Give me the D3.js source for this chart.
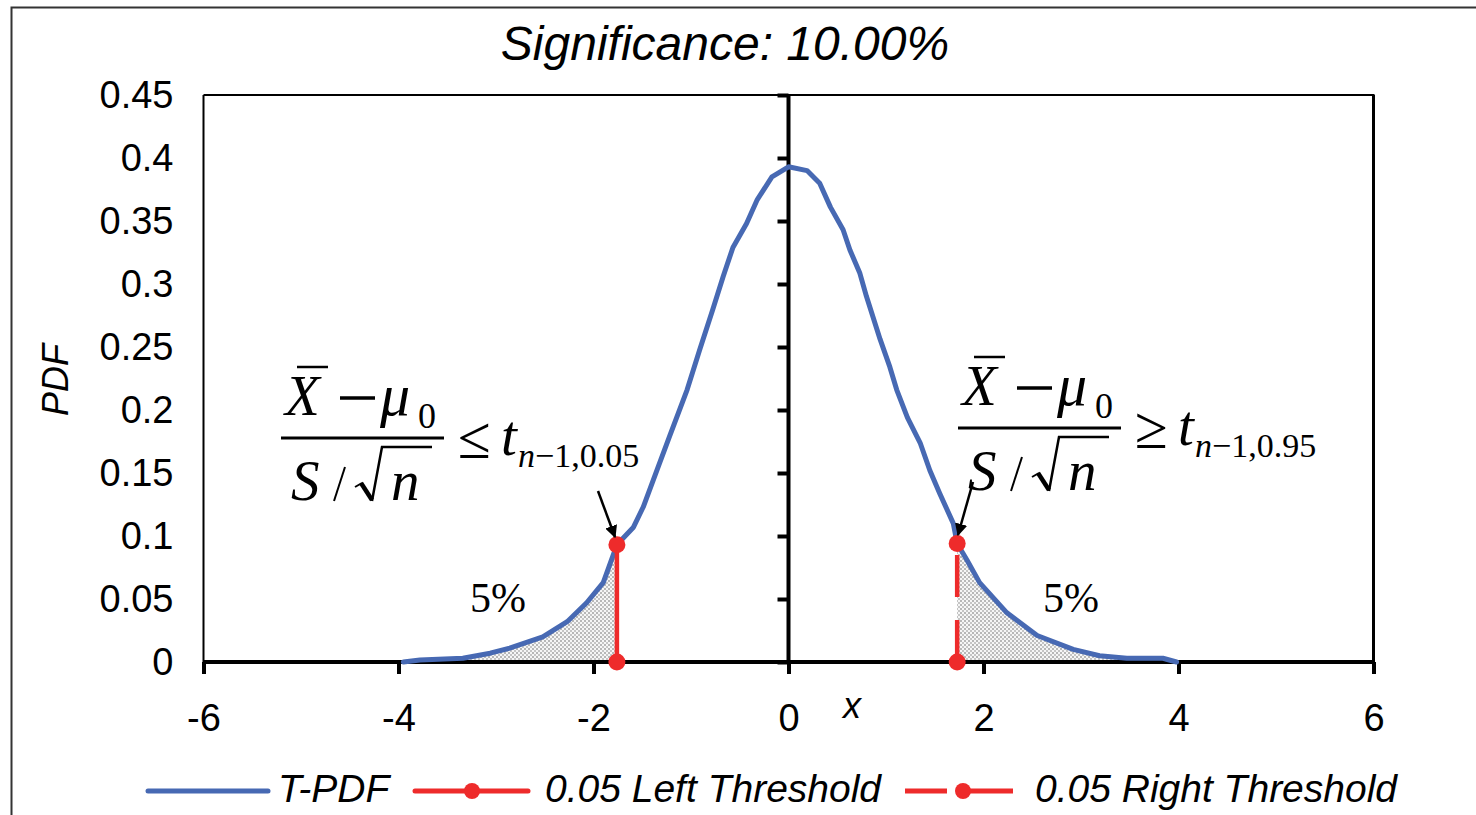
<!DOCTYPE html>
<html><head><meta charset="utf-8">
<script src="https://cdn.jsdelivr.net/npm/d3@7"></script>
<style>body{margin:0;background:#fff}svg{display:block}</style>
</head><body>
<svg id="c" width="1476" height="815"></svg>
<script>
// ---- data ----
const title = "Significance: 10.00%";
const xTicks = [-6, -4, -2, 0, 2, 4, 6];
const yTicks = [0, 0.05, 0.1, 0.15, 0.2, 0.25, 0.3, 0.35, 0.4, 0.45];
const pdfX = [-3.95, -3.78, -3.34, -3.06, -2.86, -2.52, -2.27, -2.07, -1.90, -1.76, -1.59, -1.49, -1.35, -1.22, -1.04, -0.91, -0.78, -0.67, -0.57, -0.43, -0.32, -0.17, 0,
  0.19, 0.32, 0.43, 0.56, 0.63, 0.73, 0.80, 0.94, 1.04, 1.11, 1.22, 1.35, 1.45, 1.55, 1.69, 1.73, 1.83, 1.96, 2.24, 2.55, 2.92, 3.19, 3.47, 3.84, 3.98];
const pdfY = [0, 0.0016, 0.003, 0.007, 0.011, 0.020, 0.032, 0.047, 0.063, 0.093, 0.107, 0.123, 0.152, 0.179, 0.216, 0.248, 0.279, 0.306, 0.329, 0.348, 0.367, 0.385, 0.393,
  0.390, 0.380, 0.361, 0.343, 0.327, 0.309, 0.290, 0.256, 0.234, 0.216, 0.194, 0.174, 0.152, 0.134, 0.110, 0.094, 0.081, 0.063, 0.039, 0.021, 0.010, 0.005, 0.003, 0.003, 0];
const leftThrX = [-1.76, -1.76];
const leftThrY = [0, 0.093];
const rightThrX = [1.73, 1.73];
const rightThrY = [0, 0.094];
const seriesNames = ["T-PDF", "0.05 Left Threshold", "0.05 Right Threshold"];
const tailLabel = "5%";

// ---- chart ----
const svg = d3.select("#c");
const BLUE = "#4769b3", RED = "#ee2b2b";
const x = d3.scaleLinear().domain([-6, 6]).range([203.5, 1373.5]);
const y = d3.scaleLinear().domain([0, 0.45]).range([662, 95]);
const sans = '"Liberation Sans", Arial, sans-serif';
const serif = '"Liberation Serif", "Times New Roman", serif';

// outer border
svg.append("rect").attr("x", 11.5).attr("y", 7.5).attr("width", 1480).attr("height", 820)
  .attr("fill", "none").attr("stroke", "#333").attr("stroke-width", 2);

// pattern
const defs = svg.append("defs");
const pat = defs.append("pattern").attr("id", "dots").attr("patternUnits", "userSpaceOnUse")
  .attr("width", 4).attr("height", 4);
pat.append("rect").attr("width", 4).attr("height", 4).attr("fill", "#f6f6f6");
pat.append("circle").attr("cx", 1).attr("cy", 1).attr("r", 0.8).attr("fill", "#666");
pat.append("circle").attr("cx", 3).attr("cy", 3).attr("r", 0.8).attr("fill", "#888");
defs.append("marker").attr("id", "arr").attr("viewBox", "0 0 10 10").attr("refX", 9).attr("refY", 5)
  .attr("markerWidth", 5).attr("markerHeight", 5).attr("markerUnits", "strokeWidth").attr("orient", "auto")
  .append("path").attr("d", "M0,0 L10,5 L0,10 z").attr("fill", "#000");

// plot box
const pb = svg.append("g");
pb.append("line").attr("x1", x(-6)).attr("x2", x(6) + 1).attr("y1", y(0.45)).attr("y2", y(0.45)).attr("stroke", "#000").attr("stroke-width", 2);
pb.append("line").attr("x1", x(-6)).attr("x2", x(-6)).attr("y1", y(0.45)).attr("y2", y(0)).attr("stroke", "#000").attr("stroke-width", 2);
pb.append("line").attr("x1", x(6)).attr("x2", x(6)).attr("y1", y(0.45)).attr("y2", y(0)).attr("stroke", "#000").attr("stroke-width", 3);

// tails shading
const pts = pdfX.map((v, i) => [v, pdfY[i]]);
const area = d3.area().x(d => x(d[0])).y0(y(0)).y1(d => y(d[1]));
svg.append("path").datum(pts.filter(d => d[0] <= leftThrX[0])).attr("d", area).attr("fill", "url(#dots)");
svg.append("path").datum(pts.filter(d => d[0] >= rightThrX[0])).attr("d", area).attr("fill", "url(#dots)");

// y axis (ticks at x=0) and labels at left
const yAxisTicks = svg.append("g").attr("transform", `translate(${x(0)},0)`)
  .call(d3.axisLeft(y).tickValues(yTicks).tickSize(11).tickFormat(""));
yAxisTicks.select(".domain").attr("stroke", "#000").attr("stroke-width", 4).attr("d", `M0,${y(0)}V${y(0.45)}`);
yAxisTicks.selectAll(".tick line").attr("stroke", "#000").attr("stroke-width", 4);

const yLab = svg.append("g").attr("transform", `translate(${x(-6)},0)`)
  .call(d3.axisLeft(y).tickValues(yTicks).tickSize(0).tickPadding(30).tickFormat(d => String(+d.toFixed(2))));
yLab.select(".domain").remove();
yLab.selectAll("text").attr("font-family", sans).attr("font-size", 38).attr("fill", "#000");

// x axis at y=0
const xAx = svg.append("g").attr("transform", `translate(0,${y(0)})`)
  .call(d3.axisBottom(x).tickValues(xTicks).tickSize(12).tickPadding(30).tickFormat(d => String(d)));
xAx.select(".domain").attr("stroke", "#000").attr("stroke-width", 4).attr("d", `M${x(-6)},0H${x(6)}`);
xAx.selectAll(".tick line").attr("stroke", "#000").attr("stroke-width", 4);
xAx.selectAll("text").attr("font-family", sans).attr("font-size", 38).attr("fill", "#000");

// curve
svg.append("path").datum(pts)
  .attr("d", d3.line().x(d => x(d[0])).y(d => y(d[1])))
  .attr("fill", "none").attr("stroke", BLUE).attr("stroke-width", 5).attr("stroke-linejoin", "round").attr("stroke-linecap", "round");

// thresholds
function thr(xs, ys, dash) {
  const p = xs.map((v, i) => [v, ys[i]]);
  svg.append("path").datum(p).attr("d", d3.line().x(d => x(d[0])).y(d => y(d[1])))
    .attr("stroke", RED).attr("stroke-width", 4.5).attr("fill", "none").attr("stroke-dasharray", dash);
  svg.selectAll(null).data(p).enter().append("circle")
    .attr("cx", d => x(d[0])).attr("cy", d => y(d[1])).attr("r", 8.5).attr("fill", RED);
}
thr(leftThrX, leftThrY, null);
thr(rightThrX, rightThrY, "42,23");

// 5% labels
svg.append("text").attr("x", 470).attr("y", 612).attr("font-family", serif).attr("font-size", 42).text(tailLabel);
svg.append("text").attr("x", 1043).attr("y", 612).attr("font-family", serif).attr("font-size", 42).text(tailLabel);

// formulas
function formula(ox, oy, rel, sub) {
  const t = svg.append("g").attr("transform", `translate(${ox},${oy})`).attr("font-family", serif).attr("fill", "#000");
  t.append("text").attr("x", 4).attr("y", -23).attr("font-size", 57).attr("font-style", "italic").text("X");
  t.append("line").attr("x1", 16).attr("x2", 47).attr("y1", -71).attr("y2", -71).attr("stroke", "#000").attr("stroke-width", 2.5);
  t.append("line").attr("x1", 59).attr("x2", 94).attr("y1", -40).attr("y2", -40).attr("stroke", "#000").attr("stroke-width", 3.5);
  t.append("text").attr("x", 99).attr("y", -23).attr("font-size", 60).attr("font-style", "italic").text("\u03bc");
  t.append("text").attr("x", 137).attr("y", -10).attr("font-size", 36).text("0");
  t.append("line").attr("x1", 0).attr("x2", 163).attr("y1", 0).attr("y2", 0).attr("stroke", "#000").attr("stroke-width", 3);
  t.append("text").attr("x", 10).attr("y", 62).attr("font-size", 57).attr("font-style", "italic").text("S");
  t.append("line").attr("x1", 64).attr("y1", 29).attr("x2", 53).attr("y2", 63).attr("stroke", "#000").attr("stroke-width", 2);
  t.append("path").attr("d", "M74,49 L81,45").attr("fill", "none").attr("stroke", "#000").attr("stroke-width", 2);
  t.append("path").attr("d", "M80,45 L91,62").attr("fill", "none").attr("stroke", "#000").attr("stroke-width", 4.5);
  t.append("path").attr("d", "M91,63 L101,9 L151,9").attr("fill", "none").attr("stroke", "#000").attr("stroke-width", 2.5).attr("stroke-linejoin", "miter");
  t.append("text").attr("x", 110).attr("y", 62).attr("font-size", 57).attr("font-style", "italic").text("n");
  t.append("text").attr("x", 177).attr("y", 20).attr("font-size", 60).text(rel);
  t.append("text").attr("x", 220).attr("y", 17).attr("font-size", 57).attr("font-style", "italic").text("t");
  const s = t.append("text").attr("x", 237).attr("y", 29).attr("font-size", 34);
  s.append("tspan").attr("font-style", "italic").text("n");
  s.append("tspan").text("\u22121," + sub);
}
formula(281, 438, "\u2264", "0.05");
formula(958, 428, "\u2265", "0.95");

// arrows
svg.append("line").attr("x1", 598).attr("y1", 491).attr("x2", 615).attr("y2", 537).attr("stroke", "#000").attr("stroke-width", 2.5).attr("marker-end", "url(#arr)");
svg.append("line").attr("x1", 973).attr("y1", 482).attr("x2", 958).attr("y2", 535).attr("stroke", "#000").attr("stroke-width", 2.5).attr("marker-end", "url(#arr)");

// titles
svg.append("text").attr("x", 725).attr("y", 60).attr("text-anchor", "middle").attr("font-family", sans)
  .attr("font-style", "italic").attr("font-size", 48).text(title);
svg.append("text").attr("x", 843).attr("y", 718).attr("font-family", sans).attr("font-style", "italic").attr("font-size", 36).text("x");
svg.append("text").attr("transform", "translate(68,380) rotate(-90)").attr("text-anchor", "middle").attr("font-family", sans)
  .attr("font-style", "italic").attr("font-size", 36).text("PDF");

// legend
const lg = svg.append("g").attr("font-family", sans).attr("font-style", "italic").attr("font-size", 39);
lg.append("line").attr("x1", 148).attr("x2", 268).attr("y1", 791).attr("y2", 791).attr("stroke", BLUE).attr("stroke-width", 5).attr("stroke-linecap", "round");
lg.append("text").attr("x", 278).attr("y", 802).text(seriesNames[0]);
lg.append("line").attr("x1", 415).attr("x2", 528).attr("y1", 791).attr("y2", 791).attr("stroke", RED).attr("stroke-width", 5).attr("stroke-linecap", "round");
lg.append("circle").attr("cx", 472).attr("cy", 791).attr("r", 8).attr("fill", RED);
lg.append("text").attr("x", 545).attr("y", 802).text(seriesNames[1]);
lg.append("line").attr("x1", 905).attr("x2", 947).attr("y1", 791).attr("y2", 791).attr("stroke", RED).attr("stroke-width", 5);
lg.append("line").attr("x1", 957).attr("x2", 1013).attr("y1", 791).attr("y2", 791).attr("stroke", RED).attr("stroke-width", 5);
lg.append("circle").attr("cx", 963).attr("cy", 791).attr("r", 8).attr("fill", RED);
lg.append("text").attr("x", 1035).attr("y", 802).text(seriesNames[2]);
</script>
</body></html>
